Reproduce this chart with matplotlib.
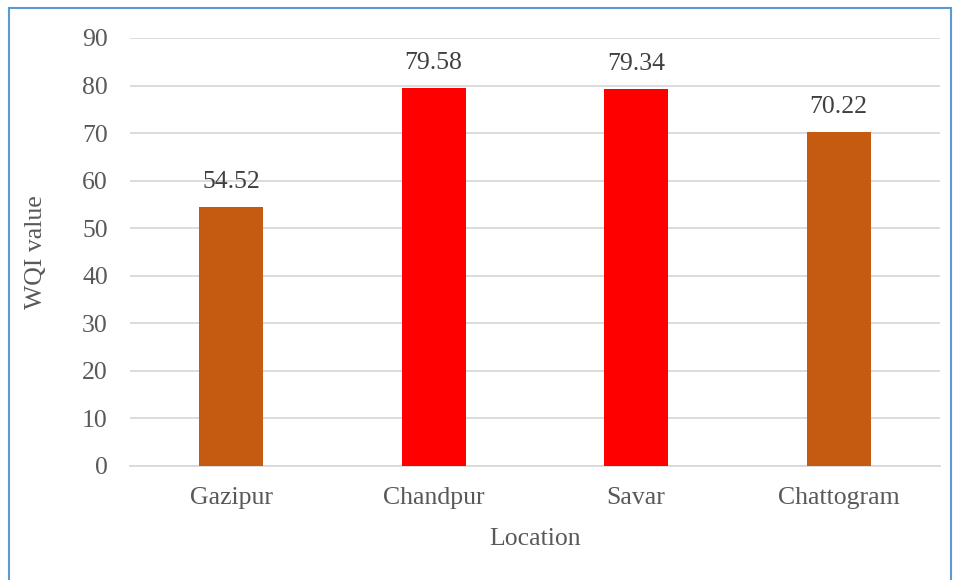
import matplotlib.pyplot as plt
from matplotlib.lines import Line2D

locations = ['Gazipur', 'Chandpur', 'Savar', 'Chattogram']
wqi_values = [54.52, 79.58, 79.34, 70.22]
bar_colors = ['#C55A11', '#FF0000', '#FF0000', '#C55A11']
y_ticks = list(range(0, 100, 10))

plt.rcParams['font.family'] = ['Liberation Serif', 'DejaVu Serif']
fs = 18.5

fig = plt.figure(figsize=(9.56, 5.8), dpi=100)
ax = fig.add_axes([0.136, 0.1966, 0.847, 0.7379])

x = range(len(locations))
ax.bar(x, wqi_values, width=0.316, color=bar_colors, zorder=3)

for xi, v in zip(x, wqi_values):
    ax.annotate(f'{v:.2f}', (xi, v), xytext=(0, 10), textcoords='offset points',
                ha='center', va='bottom', fontsize=fs, color='#404040')

ax.set_xlim(-0.5, len(locations) - 0.5)
ax.set_ylim(0, 90)
ax.set_yticks(y_ticks)
ax.set_xticks(list(x))
ax.set_xticklabels(locations)
ax.tick_params(axis='both', length=0, labelsize=fs, labelcolor='#595959')
ax.tick_params(axis='y', pad=16)
ax.tick_params(axis='x', pad=15)
ax.grid(axis='y', color='#D9D9D9', linewidth=1.3, zorder=0)
for side in ['top', 'right', 'left']:
    ax.spines[side].set_visible(False)
ax.spines['bottom'].set_color('#D9D9D9')
ax.spines['bottom'].set_linewidth(1.3)

ax.set_ylabel('WQI value', fontsize=fs, color='#595959', labelpad=25)
ax.set_xlabel('Location', fontsize=fs, color='#595959', labelpad=14)

# blue frame around the chart
border = '#5B9BD5'
fig.add_artist(Line2D([0.0094, 0.0094], [0, 0.986], color=border, linewidth=1.5))
fig.add_artist(Line2D([0.0094, 0.995], [0.986, 0.986], color=border, linewidth=1.5))
fig.add_artist(Line2D([0.995, 0.995], [0, 0.986], color=border, linewidth=1.5))

fig.savefig('out.png', dpi=100)
